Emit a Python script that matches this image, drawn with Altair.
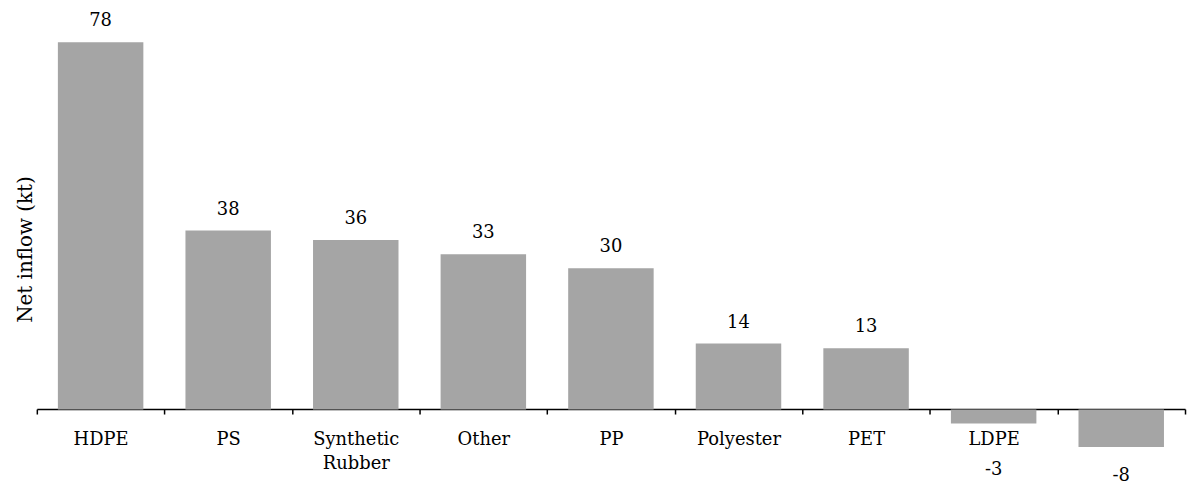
import altair as alt
import pandas as pd

categories = ["HDPE", "PS", "Synthetic Rubber", "Other", "PP", "Polyester", "PET", "LDPE", "PVC"]
values = [78, 38, 36, 33, 30, 14, 13, -3, -8]

df = pd.DataFrame({"category": categories, "value": values})

FONT = "DejaVu Serif"
FS = 18
BAR = "#a5a5a5"

x_enc = alt.X(
    "category:N",
    sort=categories,
    scale=alt.Scale(paddingInner=0, paddingOuter=0),
    axis=alt.Axis(
        title=None,
        orient="bottom",
        offset=-43,
        domain=True,
        domainColor="black",
        domainWidth=1.5,
        ticks=True,
        tickBand="extent",
        tickSize=5,
        tickColor="black",
        tickWidth=1.5,
        labelAngle=0,
        labelFont=FONT,
        labelFontSize=FS,
        labelColor="black",
        labelPadding=17,
        labelLineHeight=24,
        labelExpr="split(datum.label, ' ')",
        grid=False,
    ),
)

y_enc = alt.Y(
    "value:Q",
    scale=alt.Scale(domain=[-9, 85], nice=False, zero=True),
    axis=alt.Axis(
        title="Net inflow (kt)",
        titleFont=FONT,
        titleFontSize=20,
        titleFontWeight="normal",
        titleColor="black",
        titleAngle=-90,
        titleBaseline="alphabetic",
        titleAlign="center",
        titleX=-5,
        titleY=241,
        labels=False,
        ticks=False,
        domain=False,
        grid=False,
    ),
)

base = alt.Chart(df).transform_calculate(label="'' + datum.value")

bars = base.mark_bar(color=BAR, width=alt.RelativeBandSize(0.67)).encode(x=x_enc, y=y_enc)

xs = alt.X("category:N", sort=categories)

pos_labels = base.transform_filter("datum.value >= 0").mark_text(
    font=FONT, fontSize=FS, color="black", baseline="alphabetic", dy=-16
).encode(x=xs, y="value:Q", text="label:N")

ldpe_label = base.transform_filter("datum.category == 'LDPE'").mark_text(
    font=FONT, fontSize=FS, color="black", baseline="alphabetic", dy=52
).encode(x=xs, y="value:Q", text="label:N")

pvc_label = base.transform_filter("datum.category == 'PVC'").mark_text(
    font=FONT, fontSize=FS, color="black", baseline="alphabetic", dy=34
).encode(x=xs, y="value:Q", text="label:N")

chart = (
    alt.layer(bars, pos_labels, ldpe_label, pvc_label)
    .properties(
        width=1155,
        height=445,
        autosize=alt.AutoSizeParams(type="none"),
        padding={"left": 29, "top": 0, "right": 2, "bottom": 36},
        background="white",
    )
    .configure_view(stroke=None)
)

chart.save("out.html", embed_options={"renderer": "svg", "actions": False})
